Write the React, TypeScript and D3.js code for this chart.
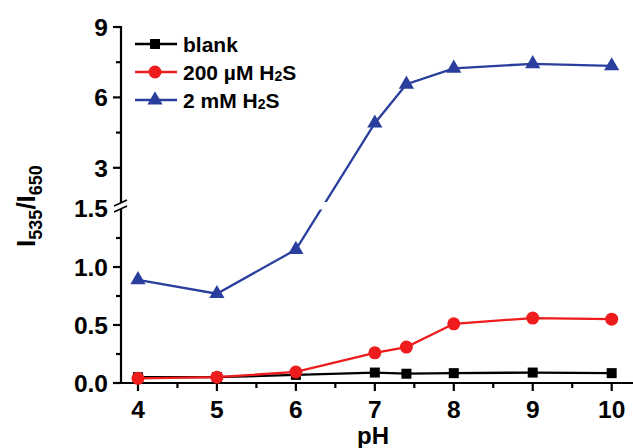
import React from "react";
import * as d3 from "d3";

const pH = [4, 5, 6, 7, 7.4, 8, 9, 10];
const blank = [0.05, 0.05, 0.07, 0.09, 0.08, 0.085, 0.09, 0.085];
const h2s200uM = [0.04, 0.05, 0.095, 0.26, 0.31, 0.51, 0.56, 0.55];
const h2s2mM = [0.89, 0.77, 1.15, 4.9, 6.56, 7.24, 7.43, 7.34];

const xTicks = [4, 5, 6, 7, 8, 9, 10];
const xMinor = [4.5, 5.5, 6.5, 7.5, 8.5, 9.5];
const yLowTicks = [0, 0.5, 1.0];
const yLowMinor = [0.25, 0.75, 1.25];
const yHighTicks = [3, 6, 9];
const yHighMinor = [4.5, 7.5];

const FONT = "'Liberation Sans', Arial, sans-serif";

export default function App() {
  const x = d3.scaleLinear().domain([3.785, 10.27]).range([121, 633]);
  const yLow = d3.scaleLinear().domain([0, 1.5]).range([383, 209]);
  const yHigh = d3.scaleLinear().domain([1.5, 9]).range([203, 27]);
  const y = (v: number) => (v <= 1.5 ? yLow(v) : yHigh(v));

  const line = d3
    .line<number>()
    .x((_, i) => x(pH[i]))
    .y((d) => y(d));

  const series = [
    { name: "blank", data: blank, color: "#000000", shape: "square" },
    { name: "200", data: h2s200uM, color: "#ee1c1c", shape: "circle" },
    { name: "2mM", data: h2s2mM, color: "#2a3f9d", shape: "triangle" },
  ];

  const tri = d3.symbol().type(d3.symbolTriangle).size(100)();

  const marker = (shape: string, color: string, cx: number, cy: number, key: any) => {
    if (shape === "square")
      return <rect key={key} x={cx - 5} y={cy - 5} width={10} height={10} fill={color} />;
    if (shape === "circle") return <circle key={key} cx={cx} cy={cy} r={6.5} fill={color} />;
    return <path key={key} d={tri as string} transform={`translate(${cx},${cy})`} fill={color} />;
  };

  const axisX = 121;
  const axisY = 383;

  const legendRows = [
    { shape: "square", color: "#000000", label: [["blank", false]] },
    { shape: "circle", color: "#ee1c1c", label: [["200 µM H", false], ["2", true], ["S", false]] },
    { shape: "triangle", color: "#2a3f9d", label: [["2 mM H", false], ["2", true], ["S", false]] },
  ];

  return (
    <svg
      width={633}
      height={448}
      style={{ position: "absolute", left: 0, top: 0, background: "#fff" }}
      fontFamily={FONT}
      fontWeight="bold"
    >
      <defs>
        <clipPath id="brk">
          <rect x={0} y={0} width={633} height={202} />
          <rect x={0} y={209.5} width={633} height={240} />
        </clipPath>
      </defs>

      {/* lines */}
      <g clipPath="url(#brk)">
        {series.map((s) => (
          <path key={s.name} d={line(s.data) as string} fill="none" stroke={s.color} strokeWidth={2.3} />
        ))}
      </g>

      {/* axes */}
      <g stroke="#000" strokeWidth={2.2} fill="none">
        <line x1={axisX} y1={axisY} x2={633} y2={axisY} />
        <line x1={axisX} y1={26} x2={axisX} y2={axisY + 1} />
        {xTicks.map((t) => (
          <line key={"xt" + t} x1={x(t)} y1={axisY} x2={x(t)} y2={axisY + 8} />
        ))}
        {xMinor.map((t) => (
          <line key={"xm" + t} x1={x(t)} y1={axisY} x2={x(t)} y2={axisY + 5} />
        ))}
        {yLowTicks.map((t) => (
          <line key={"yl" + t} x1={axisX - 8} y1={yLow(t)} x2={axisX} y2={yLow(t)} />
        ))}
        {yLowMinor.map((t) => (
          <line key={"ylm" + t} x1={axisX - 5} y1={yLow(t)} x2={axisX} y2={yLow(t)} />
        ))}
        {yHighTicks.map((t) => (
          <line key={"yh" + t} x1={axisX - 8} y1={yHigh(t)} x2={axisX} y2={yHigh(t)} />
        ))}
        {yHighMinor.map((t) => (
          <line key={"yhm" + t} x1={axisX - 5} y1={yHigh(t)} x2={axisX} y2={yHigh(t)} />
        ))}
      </g>
      {/* break symbol */}
      <rect x={axisX - 3} y={yHigh(1.5)} width={6} height={yLow(1.5) - yHigh(1.5)} fill="#fff" />
      <g stroke="#000" strokeWidth={1.6}>
        <line x1={axisX - 7} y1={yHigh(1.5) + 3} x2={axisX + 6} y2={yHigh(1.5) - 3} />
        <line x1={axisX - 7} y1={yLow(1.5) + 3} x2={axisX + 6} y2={yLow(1.5) - 3} />
      </g>

      {/* markers */}
      {series.map((s) => s.data.map((d, i) => marker(s.shape, s.color, x(pH[i]), y(d), s.name + i)))}

      {/* tick labels */}
      <g fontSize={24.5} fill="#000">
        {xTicks.map((t) => (
          <text key={"xl" + t} x={x(t)} y={418} textAnchor="middle">
            {t}
          </text>
        ))}
        {yLowTicks.map((t) => (
          <text key={"yll" + t} x={108} y={yLow(t) + 9} textAnchor="end">
            {d3.format(".1f")(t)}
          </text>
        ))}
        <text x={108} y={yLow(1.5) + 8} textAnchor="end">1.5</text>
        {yHighTicks.map((t) => (
          <text key={"yhl" + t} x={108} y={yHigh(t) + 9} textAnchor="end">
            {t}
          </text>
        ))}
      </g>

      {/* axis titles */}
      <text x={373} y={444} fontSize={24} textAnchor="middle">pH</text>
      <text transform="translate(35,206) rotate(-90)" fontSize={26} textAnchor="middle">
        I<tspan fontSize={18} dy={7}>535</tspan>
        <tspan dy={-7}>/I</tspan>
        <tspan fontSize={18} dy={7}>650</tspan>
      </text>

      {/* legend */}
      {legendRows.map((r, i) => {
        const cy = 44 + i * 28;
        return (
          <g key={"lg" + i}>
            <line x1={135} y1={cy} x2={177} y2={cy} stroke={r.color} strokeWidth={2.3} />
            {marker(r.shape, r.color, 155, cy, "lm" + i)}
            <text x={183} y={cy + 7.5} fontSize={21}>
              {r.label.map(([t, sub], j) =>
                sub ? (
                  <tspan key={j} fontSize={14} dy={1}>
                    {t as string}
                  </tspan>
                ) : (
                  <tspan key={j} dy={j > 0 ? -1 : 0}>
                    {t as string}
                  </tspan>
                )
              )}
            </text>
          </g>
        );
      })}
    </svg>
  );
}
